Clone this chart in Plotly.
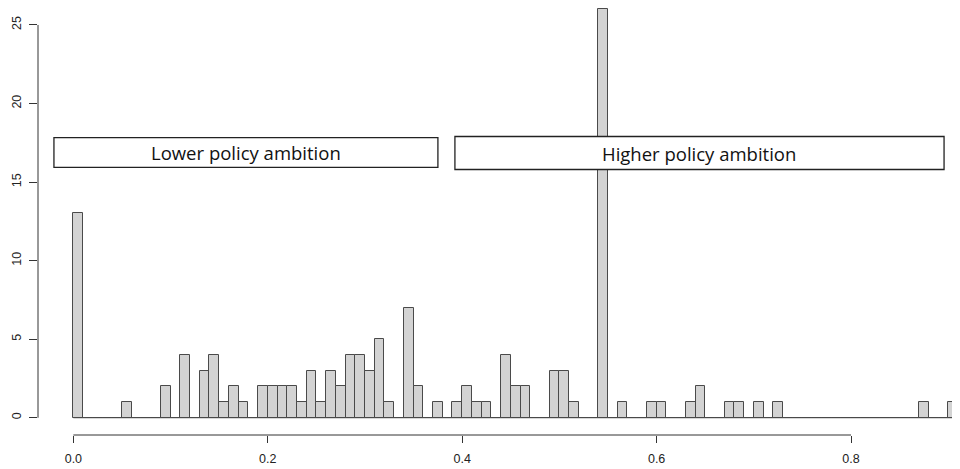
import plotly.graph_objects as go

# ---- data ----
bin_width = 0.01
counts = [13, 0, 0, 0, 0, 1, 0, 0, 0, 2,
          0, 4, 0, 3, 4, 1, 2, 1, 0, 2,
          2, 2, 2, 1, 3, 1, 3, 2, 4, 4,
          3, 5, 1, 0, 7, 2, 0, 1, 0, 1,
          2, 1, 1, 0, 4, 2, 2, 0, 0, 3,
          3, 1, 0, 0, 26, 0, 1, 0, 0, 1,
          1, 0, 0, 1, 2, 0, 0, 1, 1, 0,
          1, 0, 1, 0, 0, 0, 0, 0, 0, 0,
          0, 0, 0, 0, 0, 0, 0, 1, 0, 0,
          1]
bin_lefts = [round(i * bin_width, 2) for i in range(len(counts))]
bin_centers = [b + bin_width / 2 for b in bin_lefts]
x_ticks = [0.0, 0.2, 0.4, 0.6, 0.8]
x_tick_labels = ["0.0", "0.2", "0.4", "0.6", "0.8"]
y_ticks = [0, 5, 10, 15, 20, 25]
y_tick_labels = ["0", "5", "10", "15", "20", "25"]
box_labels = ["Lower policy ambition", "Higher policy ambition"]
box_x = [(-0.020, 0.375), (0.3925, 0.8957)]
box_y = [(15.93, 17.83), (15.8, 17.9)]

edge = "#4a4a4a"
fig = go.Figure()
# zero-height bins show as a baseline in R
fig.add_trace(go.Scatter(x=[bin_lefts[0], bin_lefts[-1] + bin_width], y=[0, 0],
                         mode="lines", line=dict(color=edge, width=1),
                         hoverinfo="skip", showlegend=False))
fig.add_trace(go.Bar(x=bin_centers, y=counts, width=bin_width,
                     marker=dict(color="#D3D3D3", line=dict(color=edge, width=1)),
                     showlegend=False))

font_axis = dict(family="Liberation Sans, Arial, sans-serif", size=12.5, color="#222")
# page body has an 8px default margin, so the figure is sized to fit the window
fig.update_layout(
    width=952, height=461,
    margin=dict(l=30, r=0, t=0, b=34, pad=0),
    paper_bgcolor="white", plot_bgcolor="white",
    bargap=0,
    xaxis=dict(range=[-0.0364, 0.9121], tickvals=x_ticks, ticktext=x_tick_labels,
               ticks="outside", ticklen=7, tickcolor="#333", tickwidth=1,
               ticklabelstandoff=5, automargin=False,
               showgrid=False, zeroline=False, showline=False, tickfont=font_axis),
    yaxis=dict(range=[-1.10, 26.08], tickvals=y_ticks, ticktext=y_tick_labels,
               ticks="outside", ticklen=8, tickcolor="#333", tickwidth=1,
               tickangle=-90, ticklabelstandoff=3, automargin=False,
               showgrid=False, zeroline=False, showline=False,
               tickfont=font_axis),
)
# R-style axis lines spanning tick range
fig.add_shape(type="line", xref="x", yref="paper", x0=x_ticks[0], x1=x_ticks[-1],
              y0=0, y1=0, line=dict(color="#333", width=1))
fig.add_shape(type="line", xref="paper", yref="y", x0=0, x1=0,
              y0=y_ticks[0], y1=y_ticks[-1], line=dict(color="#333", width=1))

for lab, (bx0, bx1), (by0, by1) in zip(box_labels, box_x, box_y):
    fig.add_shape(type="rect", xref="x", yref="y", x0=bx0, x1=bx1, y0=by0, y1=by1,
                  fillcolor="white", line=dict(color="#222", width=1.3), layer="above")
    fig.add_annotation(x=(bx0 + bx1) / 2, y=(by0 + by1) / 2, xref="x", yref="y",
                       text=lab, showarrow=False,
                       font=dict(family="Open Sans, sans-serif", size=18.5, color="#111"))

fig.write_html("out.html")
